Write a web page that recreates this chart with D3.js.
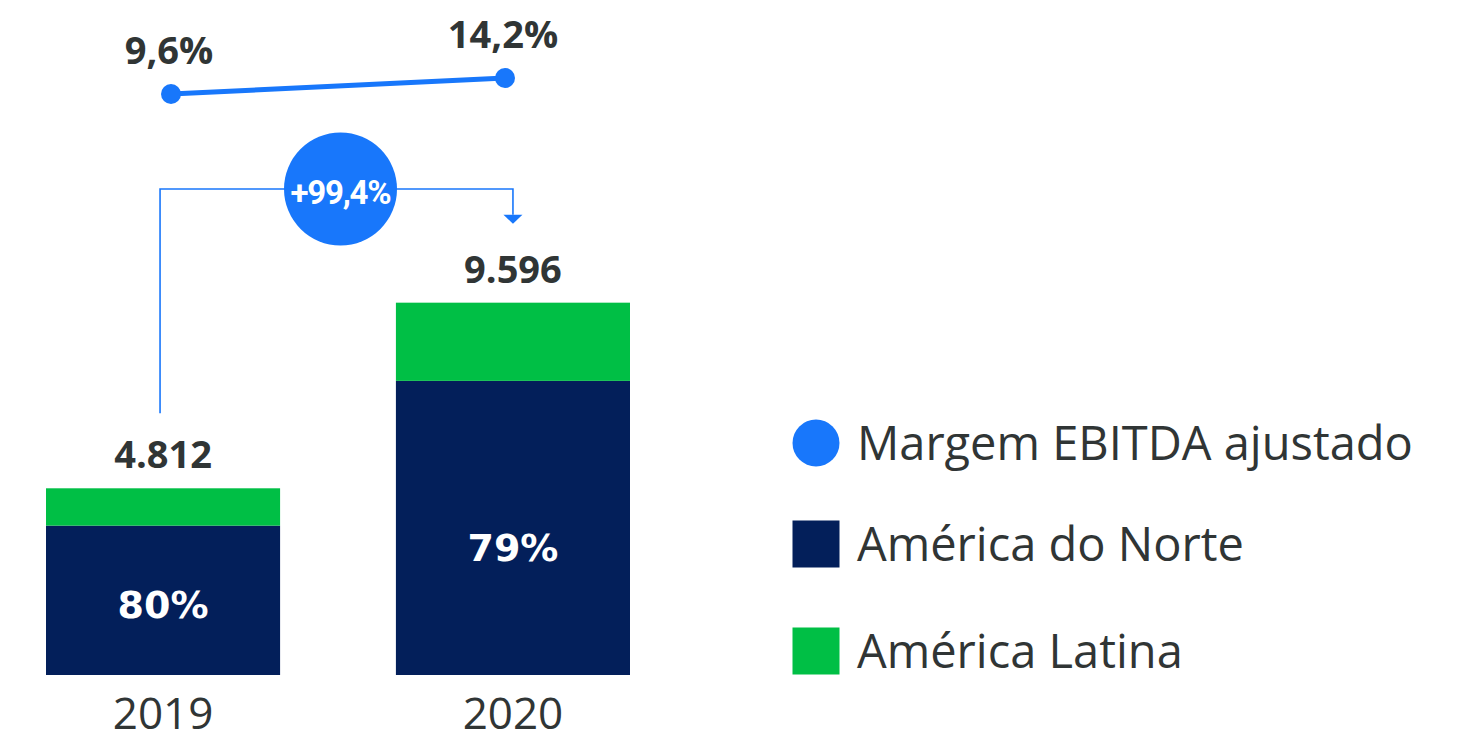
<!DOCTYPE html>
<html>
<head>
<meta charset="utf-8">
<script src="https://cdn.jsdelivr.net/npm/d3@7"></script>
<style>
  html, body { margin: 0; padding: 0; background: #ffffff; }
  svg { display: block; }
</style>
</head>
<body>
<svg id="chart" width="1467" height="741"></svg>
<script>
// Adjusted EBITDA by region (stacked) with adjusted EBITDA margin line
const years = ["2019", "2020"];
const totals = [4812, 9596];            // adjusted EBITDA
const northShares = [80, 79];           // % from North America
const margins = [9.6, 14.2];            // adjusted EBITDA margin, %
const growthLabel = "+99,4%";
const seriesNames = ["Margem EBITDA ajustado", "América do Norte", "América Latina"];

const COLORS = {
  line: "#1877FB",
  north: "#031F5A",
  latin: "#00BF45",
  text: "#303535"
};

const ptBR = d3.formatLocale({ decimal: ",", thousands: ".", grouping: [3], currency: ["R$", ""] });
const fmtInt = ptBR.format(",.0f");
const fmtPct1 = v => ptBR.format(".1f")(v) + "%";

const rows = years.map((y, i) => {
  const north = totals[i] * northShares[i] / 100;
  return { year: y, total: totals[i], share: northShares[i], north, latin: totals[i] - north, margin: margins[i] };
});

const svg = d3.select("#chart");

// Scales
const x = d3.scaleBand().domain(years).range([46, 630]).paddingInner(0.331).paddingOuter(0);
const y = d3.scaleLinear().domain([0, 10000]).range([675, 287]);
const xLine = d3.scalePoint().domain(years).range([171, 505]);
const yLine = d3.scaleLinear().domain([0, 20]).range([127.4, 57.8]);

const cx = d => x(d.year) + x.bandwidth() / 2;

// Stacked bars
const stack = d3.stack().keys(["north", "latin"])(rows);
const fillFor = { north: COLORS.north, latin: COLORS.latin };

svg.append("g").selectAll("g")
  .data(stack)
  .join("g")
  .attr("fill", s => fillFor[s.key])
  .selectAll("rect")
  .data(s => s)
  .join("rect")
  .attr("x", d => x(d.data.year))
  .attr("width", x.bandwidth())
  .attr("y", d => y(d[1]))
  .attr("height", d => y(d[0]) - y(d[1]));

// Share of North America inside the navy segment
svg.append("g").selectAll("text")
  .data(rows)
  .join("text")
  .attr("x", cx)
  .attr("y", d => (y(0) + y(d.north)) / 2 + (d.share === 80 ? 18 : 33))
  .attr("text-anchor", "middle")
  .attr("font-family", "'DejaVu Sans', sans-serif")
  .attr("font-weight", 700)
  .attr("font-size", 38)
  .attr("fill", "#ffffff")
  .text(d => d.share + "%");

// Totals above bars
svg.append("g").selectAll("text")
  .data(rows)
  .join("text")
  .attr("x", cx)
  .attr("y", d => y(d.total) - 20)
  .attr("text-anchor", "middle")
  .attr("font-family", "'Open Sans', sans-serif")
  .attr("font-weight", 700)
  .attr("font-size", 38)
  .attr("fill", COLORS.text)
  .text(d => fmtInt(d.total));

// Year labels
svg.append("g").selectAll("text")
  .data(rows)
  .join("text")
  .attr("x", cx)
  .attr("y", 729)
  .attr("text-anchor", "middle")
  .attr("font-family", "'Open Sans', sans-serif")
  .attr("font-size", 44)
  .attr("fill", COLORS.text)
  .text(d => d.year);

// Growth connector from the 2019 bar to the 2020 bar
const first = rows[0], last = rows[rows.length - 1];
const bridgeY = 189;
const x0 = cx(first) - 3, x1 = cx(last);
svg.append("path")
  .attr("d", `M${x0},${y(first.total) - 75} V${bridgeY} H${x1} V${y(last.total) - 88}`)
  .attr("fill", "none")
  .attr("stroke", COLORS.line)
  .attr("stroke-width", 1.6);
svg.append("path")
  .attr("d", d3.line()([[x1 - 9.5, y(last.total) - 88], [x1 + 9.5, y(last.total) - 88], [x1, y(last.total) - 79]]) + "Z")
  .attr("fill", COLORS.line);

const badgeX = (x0 + x1) / 2 + 4;
svg.append("circle")
  .attr("cx", badgeX).attr("cy", bridgeY).attr("r", 56.5)
  .attr("fill", COLORS.line);
svg.append("text")
  .attr("x", badgeX).attr("y", bridgeY + 15)
  .attr("text-anchor", "middle")
  .attr("font-family", "Roboto, sans-serif")
  .attr("font-weight", 700)
  .attr("font-size", 33)
  .attr("letter-spacing", -1.2)
  .attr("fill", "#ffffff")
  .text(growthLabel);

// Margin line
svg.append("path")
  .datum(rows)
  .attr("d", d3.line().x(d => xLine(d.year)).y(d => yLine(d.margin)))
  .attr("fill", "none")
  .attr("stroke", COLORS.line)
  .attr("stroke-width", 5);
svg.append("g").selectAll("circle")
  .data(rows)
  .join("circle")
  .attr("cx", d => xLine(d.year))
  .attr("cy", d => yLine(d.margin))
  .attr("r", 10)
  .attr("fill", COLORS.line);
svg.append("g").selectAll("text")
  .data(rows)
  .join("text")
  .attr("x", d => xLine(d.year) - 2)
  .attr("y", d => yLine(d.margin) - 30)
  .attr("text-anchor", "middle")
  .attr("font-family", "'Open Sans', sans-serif")
  .attr("font-weight", 700)
  .attr("font-size", 38)
  .attr("fill", COLORS.text)
  .text(d => fmtPct1(d.margin));

// Legend
const legend = svg.append("g").attr("transform", "translate(816,0)");
const legendRows = [
  { name: seriesNames[0], shape: "circle", color: COLORS.line, cy: 443 },
  { name: seriesNames[1], shape: "rect", color: COLORS.north, cy: 544 },
  { name: seriesNames[2], shape: "rect", color: COLORS.latin, cy: 651 }
];
const li = legend.selectAll("g").data(legendRows).join("g")
  .attr("transform", d => `translate(0,${d.cy})`);
li.filter(d => d.shape === "circle").append("circle").attr("r", 23.5).attr("fill", d => d.color);
li.filter(d => d.shape === "rect").append("rect")
  .attr("x", -23.5).attr("y", -23.5).attr("width", 47).attr("height", 47)
  .attr("fill", d => d.color);
li.append("text")
  .attr("x", 41)
  .attr("y", 17)
  .attr("font-family", "'Open Sans', sans-serif")
  .attr("font-size", 47)
  .attr("fill", COLORS.text)
  .text(d => d.name);
</script>
</body>
</html>
